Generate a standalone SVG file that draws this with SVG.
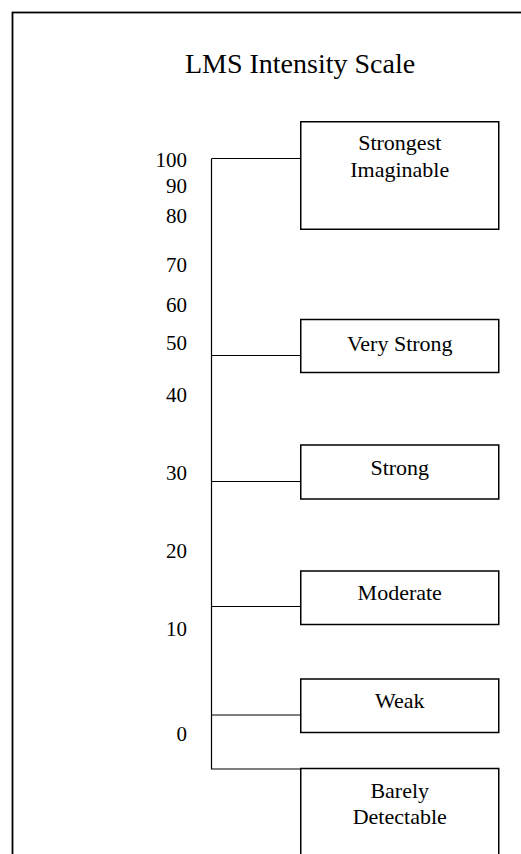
<svg xmlns="http://www.w3.org/2000/svg" width="521" height="854" viewBox="0 0 521 854">
<style>
text{font-family:'Liberation Serif','Times New Roman',serif;fill:#000}
.box{fill:#fff;stroke:#000;stroke-width:1.5}
.lbl{font-size:22px;text-anchor:middle}
.num{font-size:21px;text-anchor:end}
.ln{stroke:#000;stroke-width:1.2;fill:none}
</style>
<rect x="12.5" y="12.5" width="520" height="860" fill="#fff" stroke="#000" stroke-width="1.8"/>
<text x="300" y="73" font-size="28" text-anchor="middle">LMS Intensity Scale</text>
<g id="scale">
<text class="num" x="187" y="167">100</text>
<text class="num" x="187" y="193">90</text>
<text class="num" x="187" y="223">80</text>
<text class="num" x="187" y="272">70</text>
<text class="num" x="187" y="312">60</text>
<text class="num" x="187" y="350">50</text>
<text class="num" x="187" y="402">40</text>
<text class="num" x="187" y="480">30</text>
<text class="num" x="187" y="558">20</text>
<text class="num" x="187" y="636">10</text>
<text class="num" x="187" y="741">0</text>
</g>
<g id="connectors">
<path class="ln" d="M211.5 158.5V769H301"/>
<path class="ln" d="M211.5 158.5H301"/>
<path class="ln" d="M211.5 355.5H301"/>
<path class="ln" d="M211.5 481.5H301"/>
<path class="ln" d="M211.5 606.5H301"/>
<path class="ln" d="M211.5 715H301"/>
</g>
<g id="strongest">
<rect class="box" x="300.75" y="121.75" width="198" height="107.5"/>
<text class="lbl" x="399.75" y="150">Strongest</text>
<text class="lbl" x="399.75" y="177">Imaginable</text>
</g>
<g id="very-strong">
<rect class="box" x="300.75" y="319.5" width="198" height="53"/>
<text class="lbl" x="399.75" y="350.5">Very Strong</text>
</g>
<g id="strong">
<rect class="box" x="300.75" y="445" width="198" height="54"/>
<text class="lbl" x="399.75" y="475">Strong</text>
</g>
<g id="moderate">
<rect class="box" x="300.75" y="571" width="198" height="53.5"/>
<text class="lbl" x="399.75" y="600">Moderate</text>
</g>
<g id="weak">
<rect class="box" x="300.75" y="679" width="198" height="53.5"/>
<text class="lbl" x="399.75" y="707.5">Weak</text>
</g>
<g id="barely">
<rect class="box" x="300.75" y="768.5" width="198" height="110"/>
<text class="lbl" x="399.75" y="798">Barely</text>
<text class="lbl" x="399.75" y="824">Detectable</text>
</g>
</svg>
